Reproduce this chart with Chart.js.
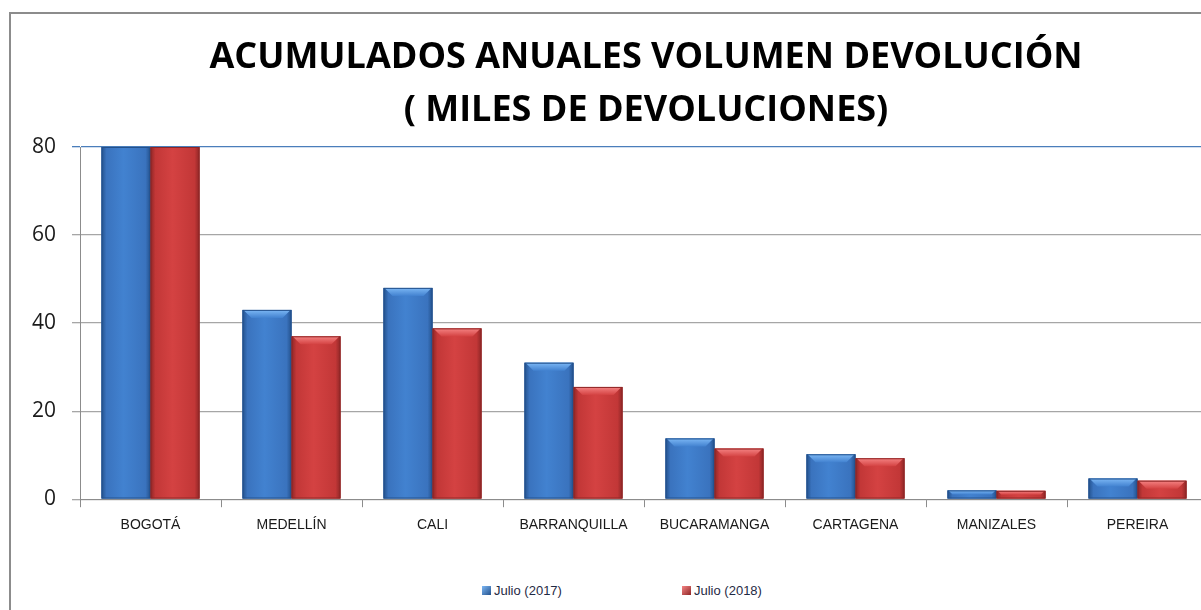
<!DOCTYPE html>
<html>
<head>
<meta charset="utf-8">
<script src="https://cdn.jsdelivr.net/npm/chart.js@4"></script>
<style>
  html, body { margin: 0; padding: 0; background: #fff; overflow: hidden; width: 1201px; height: 610px; }
  #frame { position: absolute; left: 9px; top: 12px; width: 1400px; height: 700px; border: 2px solid #8c8c8c; }
  #chart { position: absolute; left: 0; top: 0; }
  #legend { position: absolute; left: 482px; top: 583px; display: flex; font: 13px "Liberation Sans", Arial, sans-serif; color: #1f2a44; }
  #legend .item { width: 200px; display: flex; align-items: center; }
  #legend .box { width: 9px; height: 9px; margin-right: 3px; }
</style>
</head>
<body>
<div id="frame"></div>
<canvas id="chart" width="1292" height="553"></canvas>
<div id="legend"></div>
<script>
// Data (thousands of returns)
const categories = ['BOGOTÁ', 'MEDELLÍN', 'CALI', 'BARRANQUILLA', 'BUCARAMANGA', 'CARTAGENA', 'MANIZALES', 'PEREIRA'];
const julio2017 = [175, 43, 48, 31, 13.8, 10.2, 2.0, 4.7];
const julio2018 = [165, 37, 38.8, 25.5, 11.5, 9.3, 1.9, 4.2];
const seriesLabels = ['Julio (2017)', 'Julio (2018)'];
const titleLines = ['ACUMULADOS ANUALES VOLUMEN DEVOLUCIÓN', '( MILES DE DEVOLUCIONES)'];
const yMin = 0;
const yMax = 80;
const yStep = 20;

// bar shading (edge / body / highlight / bevel)
const shades = [
    { edge: '#23518c', mid: '#3a73be', light: '#4282d0', bevel: '#7db8f5' },
    { edge: '#8e2626', mid: '#c23737', light: '#d44242', bevel: '#f58484' }
];

// two-line title, centred on the whole (wider than the window) chart canvas
const titlePlugin = {
    id: 'bigTitle',
    afterDraw(chart) {
        const { ctx, width } = chart;
        ctx.save();
        ctx.fillStyle = '#000';
        ctx.font = 'bold 36px "Open Sans", sans-serif';
        ctx.textAlign = 'center';
        ctx.textBaseline = 'alphabetic';
        ctx.fillText(titleLines[0], width / 2, 68);
        ctx.fillText(titleLines[1], width / 2, 121);
        ctx.restore();
    }
};

// overlay gradient + top bevel on each bar, using the bar elements laid out by Chart.js
const bevelPlugin = {
    id: 'bevel',
    afterDatasetsDraw(chart) {
        const { ctx, chartArea: a } = chart;
        ctx.save();
        ctx.beginPath();
        ctx.rect(a.left, a.top, a.right - a.left, a.bottom - a.top);
        ctx.clip();
        chart.data.datasets.forEach((ds, di) => {
            const c = shades[di];
            chart.getDatasetMeta(di).data.forEach(bar => {
                const { x, y, base, width } = bar.getProps(['x', 'y', 'base', 'width'], true);
                const l = x - width / 2, r = x + width / 2;
                const top = Math.max(y, a.top);
                const g = ctx.createLinearGradient(l, 0, r, 0);
                g.addColorStop(0, c.edge);
                g.addColorStop(0.1, c.mid);
                g.addColorStop(0.45, c.light);
                g.addColorStop(0.9, c.mid);
                g.addColorStop(1, c.edge);
                ctx.fillStyle = g;
                ctx.fillRect(l, top, width, base - top);
                if (y >= a.top) {
                    const h = Math.min(8, (base - y) / 2);
                    const inset = Math.min(8, h);
                    const bg = ctx.createLinearGradient(0, y, 0, y + h);
                    bg.addColorStop(0, c.bevel);
                    bg.addColorStop(1, c.light);
                    ctx.fillStyle = bg;
                    ctx.beginPath();
                    ctx.moveTo(l + 1, y);
                    ctx.lineTo(r - 1, y);
                    ctx.lineTo(r - 1 - inset, y + h);
                    ctx.lineTo(l + 1 + inset, y + h);
                    ctx.closePath();
                    ctx.fill();
                }
                ctx.strokeStyle = c.edge;
                ctx.lineWidth = 1;
                ctx.strokeRect(l + 0.5, top + 0.5, width - 1, base - top - 1);
            });
        });
        ctx.restore();
    }
};

const ctx = document.getElementById('chart').getContext('2d');
const chart = new Chart(ctx, {
    type: 'bar',
    data: {
        labels: categories,
        datasets: [
            { label: seriesLabels[0], data: julio2017, backgroundColor: shades[0].mid },
            { label: seriesLabels[1], data: julio2018, backgroundColor: shades[1].mid }
        ]
    },
    options: {
        responsive: false,
        animation: false,
        categoryPercentage: 0.695,
        barPercentage: 1,
        layout: { padding: { left: 10, right: 84, bottom: 9, top: 147 } },
        plugins: {
            legend: { display: false },
            tooltip: { enabled: false },
            title: { display: false }
        },
        scales: {
            x: {
                grid: { drawOnChartArea: false, tickLength: 8, color: '#8c8c8c' },
                border: { color: '#8c8c8c' },
                ticks: {
                    color: '#1a1a1a',
                    padding: 10,
                    maxRotation: 0,
                    font: { family: '"Liberation Sans", Arial, sans-serif', size: 14 }
                }
            },
            y: {
                min: yMin,
                max: yMax,
                afterFit(scale) { scale.width = 70; },
                ticks: {
                    stepSize: yStep,
                    color: '#1a1a1a',
                    padding: 16,
                    font: { family: '"Open Sans", sans-serif', size: 21 }
                },
                grid: {
                    tickLength: 8,
                    lineWidth: 1.3,
                    color: c => c.tick && c.tick.value === yMax ? '#4a7ebb' : '#a6a6a6'
                },
                border: { color: '#8c8c8c' }
            }
        }
    },
    plugins: [bevelPlugin, titlePlugin]
});

// HTML legend built from the chart's datasets
const legendEl = document.getElementById('legend');
chart.data.datasets.forEach((ds, i) => {
    const item = document.createElement('div');
    item.className = 'item';
    const box = document.createElement('span');
    box.className = 'box';
    box.style.background = 'linear-gradient(to bottom right, ' + shades[i].bevel + ', ' + shades[i].edge + ')';
    const txt = document.createElement('span');
    txt.textContent = ds.label;
    item.appendChild(box);
    item.appendChild(txt);
    legendEl.appendChild(item);
});
</script>
</body>
</html>
